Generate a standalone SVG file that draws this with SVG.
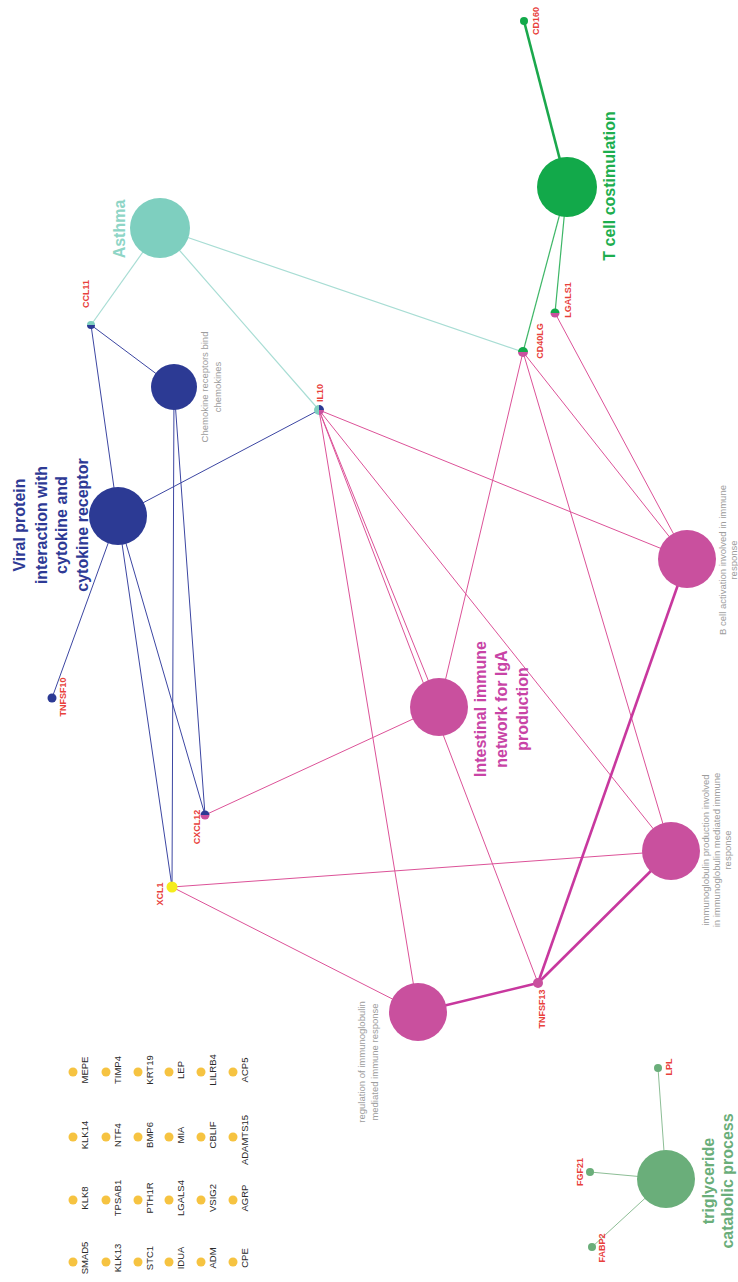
<svg xmlns="http://www.w3.org/2000/svg" width="738" height="1282" viewBox="0 0 738 1282">
<style>
text { font-family: "Liberation Sans", Arial, sans-serif; text-anchor: middle; }
.gene { font-size: 9px; font-weight: bold; fill: #E8413C; }
.grid { font-size: 9.5px; fill: #2a2a2a; }
.term { font-size: 9.5px; fill: #9C9C9C; }
.big { font-size: 16px; font-weight: bold; }
.eb { stroke: #3C46A2; stroke-width: 1; }
.em { stroke: #DC5298; stroke-width: 1; }
.emt { stroke: #C8389E; stroke-width: 2.6; }
.et { stroke: #A8DDD4; stroke-width: 1.2; }
.eg { stroke: #3DB666; stroke-width: 1.2; }
.egt { stroke: #1BA84C; stroke-width: 2.6; }
.ey { stroke: #8DBE96; stroke-width: 1; }
.gd { fill: #F6C341; }
.blue { fill: #2C3A94; }
.mag { fill: #C9509E; }
.teal { fill: #7ECFBF; }
.grn { fill: #12A94A; }
.tri { fill: #6AAE7A; }
</style>
<rect width="738" height="1282" fill="#ffffff"/>
<g id="edges" fill="none">
  <line class="et" x1="160" y1="228" x2="91" y2="325"/>
  <line class="et" x1="160" y1="228" x2="319" y2="410"/>
  <line class="et" x1="160" y1="228" x2="523" y2="352"/>
  <line class="egt" x1="567" y1="187" x2="524" y2="21"/>
  <line class="eg" x1="567" y1="187" x2="523" y2="352"/>
  <line class="eg" x1="567" y1="187" x2="555" y2="313"/>
  <line class="eb" x1="91" y1="325" x2="174" y2="387"/>
  <line class="eb" x1="91" y1="325" x2="118" y2="516"/>
  <line class="eb" x1="118" y1="516" x2="319" y2="410"/>
  <line class="eb" x1="118" y1="516" x2="52" y2="698"/>
  <line class="eb" x1="118" y1="516" x2="205" y2="815"/>
  <line class="eb" x1="118" y1="516" x2="172" y2="887"/>
  <line class="eb" x1="174" y1="387" x2="205" y2="815"/>
  <line class="eb" x1="174" y1="387" x2="172" y2="887"/>
  <line class="em" x1="319" y1="410" x2="418" y2="1012"/>
  <line class="em" x1="319" y1="410" x2="439" y2="707"/>
  <line class="em" x1="319" y1="410" x2="538" y2="983"/>
  <line class="em" x1="319" y1="410" x2="671" y2="851"/>
  <line class="em" x1="319" y1="410" x2="687" y2="559"/>
  <line class="em" x1="523" y1="352" x2="439" y2="707"/>
  <line class="em" x1="523" y1="352" x2="671" y2="851"/>
  <line class="em" x1="523" y1="352" x2="687" y2="559"/>
  <line class="em" x1="555" y1="313" x2="687" y2="559"/>
  <line class="em" x1="172" y1="887" x2="418" y2="1012"/>
  <line class="em" x1="172" y1="887" x2="671" y2="851"/>
  <line class="em" x1="205" y1="815" x2="439" y2="707"/>
  <line class="emt" x1="538" y1="983" x2="418" y2="1012"/>
  <line class="emt" x1="538" y1="983" x2="671" y2="851"/>
  <line class="emt" x1="538" y1="983" x2="687" y2="559"/>
  <line class="ey" x1="666" y1="1179" x2="658" y2="1068"/>
  <line class="ey" x1="666" y1="1179" x2="590" y2="1172"/>
  <line class="ey" x1="666" y1="1179" x2="592" y2="1247"/>
</g>
<g id="node-asthma">
  <circle class="teal" cx="160" cy="228" r="30"/>
  <text class="big" fill="#8ED5C6" transform="translate(124.6,229) rotate(-90)">Asthma</text>
</g>
<g id="node-tcell">
  <circle class="grn" cx="567" cy="187" r="30"/>
  <text class="big" fill="#1DAE4E" transform="translate(614.6,186) rotate(-90)">T cell costimulation</text>
</g>
<g id="node-viral">
  <circle class="blue" cx="118" cy="516" r="29"/>
  <text class="big" fill="#2E3A95" transform="translate(24.6,525) rotate(-90)">Viral protein</text>
  <text class="big" fill="#2E3A95" transform="translate(46.6,525) rotate(-90)">interaction with</text>
  <text class="big" fill="#2E3A95" transform="translate(67.1,525) rotate(-90)">cytokine and</text>
  <text class="big" fill="#2E3A95" transform="translate(87.6,525) rotate(-90)">cytokine receptor</text>
</g>
<g id="node-chemokine">
  <circle class="blue" cx="174" cy="387" r="23"/>
  <text class="term" transform="translate(208.3,387) rotate(-90)">Chemokine receptors bind</text>
  <text class="term" transform="translate(221.3,387) rotate(-90)">chemokines</text>
</g>
<g id="node-intestinal">
  <circle class="mag" cx="439" cy="707" r="29"/>
  <text class="big" fill="#C844A6" transform="translate(485.6,709) rotate(-90)">Intestinal immune</text>
  <text class="big" fill="#C844A6" transform="translate(506.6,709) rotate(-90)">network for IgA</text>
  <text class="big" fill="#C844A6" transform="translate(527.6,709) rotate(-90)">production</text>
</g>
<g id="node-bcell">
  <circle class="mag" cx="687" cy="559" r="29"/>
  <text class="term" transform="translate(726.3,560) rotate(-90)">B cell activation involved in immune</text>
  <text class="term" transform="translate(737.3,560) rotate(-90)">response</text>
</g>
<g id="node-igprod">
  <circle class="mag" cx="671" cy="851" r="29"/>
  <text class="term" transform="translate(709.3,850) rotate(-90)">immunoglobulin production involved</text>
  <text class="term" transform="translate(720.3,850) rotate(-90)">in immunoglobulin mediated immune</text>
  <text class="term" transform="translate(731.3,850) rotate(-90)">response</text>
</g>
<g id="node-regulation">
  <circle class="mag" cx="418" cy="1012" r="29"/>
  <text class="term" transform="translate(365.3,1062) rotate(-90)">regulation of immunoglobulin</text>
  <text class="term" transform="translate(378.3,1062) rotate(-90)">mediated immune response</text>
</g>
<g id="node-triglyceride">
  <circle class="tri" cx="666" cy="1179" r="29"/>
  <text class="big" fill="#6AAE7A" transform="translate(713.6,1181) rotate(-90)">triglyceride</text>
  <text class="big" fill="#6AAE7A" transform="translate(733.1,1181) rotate(-90)">catabolic process</text>
</g>
<g id="gene-CCL11">
  <path class="teal" d="M87,325 A4,4 0 0 1 95,325 Z"/>
  <path class="blue" d="M87,325 A4,4 0 0 0 95,325 Z"/>
  <text class="gene" transform="translate(89.2,294) rotate(-90)">CCL11</text>
</g>
<g id="gene-IL10">
  <path class="teal" d="M319,405 A5,5 0 0 0 319,415 Z"/>
  <path class="blue" d="M319,410 L319,405 A5,5 0 0 1 324,410 Z"/>
  <path class="mag" d="M319,410 L324,410 A5,5 0 0 1 319,415 Z"/>
  <text class="gene" transform="translate(323.2,393) rotate(-90)">IL10</text>
</g>
<g id="gene-CD40LG">
  <path class="grn" d="M518,352 A5,5 0 0 1 528,352 Z"/>
  <path class="mag" d="M518,352 A5,5 0 0 0 528,352 Z"/>
  <text class="gene" transform="translate(543.2,341) rotate(-90)">CD40LG</text>
</g>
<g id="gene-LGALS1">
  <path class="grn" d="M550.5,313 A4.5,4.5 0 0 1 559.5,313 Z"/>
  <path class="mag" d="M550.5,313 A4.5,4.5 0 0 0 559.5,313 Z"/>
  <text class="gene" transform="translate(571.2,300) rotate(-90)">LGALS1</text>
</g>
<g id="gene-CD160">
  <circle class="grn" cx="524" cy="21" r="4"/>
  <text class="gene" transform="translate(539.2,21) rotate(-90)">CD160</text>
</g>
<g id="gene-TNFSF10">
  <circle class="blue" cx="52" cy="698" r="4.5"/>
  <text class="gene" transform="translate(66.2,697) rotate(-90)">TNFSF10</text>
</g>
<g id="gene-CXCL12">
  <path class="blue" d="M200.5,815 A4.5,4.5 0 0 1 209.5,815 Z"/>
  <path class="mag" d="M200.5,815 A4.5,4.5 0 0 0 209.5,815 Z"/>
  <text class="gene" transform="translate(200.2,827) rotate(-90)">CXCL12</text>
</g>
<g id="gene-XCL1">
  <circle fill="#F5EC1E" cx="172" cy="887" r="5.5"/>
  <text class="gene" transform="translate(163.2,894) rotate(-90)">XCL1</text>
</g>
<g id="gene-TNFSF13">
  <circle class="mag" cx="538" cy="983" r="5"/>
  <text class="gene" transform="translate(545.2,1009) rotate(-90)">TNFSF13</text>
</g>
<g id="gene-LPL">
  <circle class="tri" cx="658" cy="1068" r="4"/>
  <text class="gene" transform="translate(672.2,1067) rotate(-90)">LPL</text>
</g>
<g id="gene-FGF21">
  <circle class="tri" cx="590" cy="1172" r="4"/>
  <text class="gene" transform="translate(583.2,1172) rotate(-90)">FGF21</text>
</g>
<g id="gene-FABP2">
  <circle class="tri" cx="592" cy="1247" r="4"/>
  <text class="gene" transform="translate(605.2,1248) rotate(-90)">FABP2</text>
</g>
<g id="unconnected">
  <g id="g-MEPE"><circle class="gd" cx="73" cy="1072" r="4.5"/><text class="grid" transform="translate(88.3,1070) rotate(-90)">MEPE</text></g>
  <g id="g-TIMP4"><circle class="gd" cx="106" cy="1072" r="4.5"/><text class="grid" transform="translate(121.3,1070) rotate(-90)">TIMP4</text></g>
  <g id="g-KRT19"><circle class="gd" cx="138" cy="1072" r="4.5"/><text class="grid" transform="translate(153.3,1070) rotate(-90)">KRT19</text></g>
  <g id="g-LEP"><circle class="gd" cx="169" cy="1072" r="4.5"/><text class="grid" transform="translate(184.3,1070) rotate(-90)">LEP</text></g>
  <g id="g-LILRB4"><circle class="gd" cx="201" cy="1072" r="4.5"/><text class="grid" transform="translate(216.3,1070) rotate(-90)">LILRB4</text></g>
  <g id="g-ACP5"><circle class="gd" cx="233" cy="1072" r="4.5"/><text class="grid" transform="translate(248.3,1070) rotate(-90)">ACP5</text></g>
  <g id="g-KLK14"><circle class="gd" cx="73" cy="1137" r="4.5"/><text class="grid" transform="translate(88.3,1135) rotate(-90)">KLK14</text></g>
  <g id="g-NTF4"><circle class="gd" cx="106" cy="1137" r="4.5"/><text class="grid" transform="translate(121.3,1135) rotate(-90)">NTF4</text></g>
  <g id="g-BMP6"><circle class="gd" cx="138" cy="1137" r="4.5"/><text class="grid" transform="translate(153.3,1135) rotate(-90)">BMP6</text></g>
  <g id="g-MIA"><circle class="gd" cx="169" cy="1137" r="4.5"/><text class="grid" transform="translate(184.3,1135) rotate(-90)">MIA</text></g>
  <g id="g-CBLIF"><circle class="gd" cx="201" cy="1137" r="4.5"/><text class="grid" transform="translate(216.3,1135) rotate(-90)">CBLIF</text></g>
  <g id="g-ADAMTS15"><circle class="gd" cx="233" cy="1137" r="4.5"/><text class="grid" transform="translate(248.3,1140) rotate(-90)">ADAMTS15</text></g>
  <g id="g-KLK8"><circle class="gd" cx="73" cy="1200" r="4.5"/><text class="grid" transform="translate(88.3,1198) rotate(-90)">KLK8</text></g>
  <g id="g-TPSAB1"><circle class="gd" cx="106" cy="1200" r="4.5"/><text class="grid" transform="translate(121.3,1198) rotate(-90)">TPSAB1</text></g>
  <g id="g-PTH1R"><circle class="gd" cx="138" cy="1200" r="4.5"/><text class="grid" transform="translate(153.3,1198) rotate(-90)">PTH1R</text></g>
  <g id="g-LGALS4"><circle class="gd" cx="169" cy="1200" r="4.5"/><text class="grid" transform="translate(184.3,1198) rotate(-90)">LGALS4</text></g>
  <g id="g-VSIG2"><circle class="gd" cx="201" cy="1200" r="4.5"/><text class="grid" transform="translate(216.3,1198) rotate(-90)">VSIG2</text></g>
  <g id="g-AGRP"><circle class="gd" cx="233" cy="1200" r="4.5"/><text class="grid" transform="translate(248.3,1198) rotate(-90)">AGRP</text></g>
  <g id="g-SMAD5"><circle class="gd" cx="73" cy="1262" r="4.5"/><text class="grid" transform="translate(88.3,1258) rotate(-90)">SMAD5</text></g>
  <g id="g-KLK13"><circle class="gd" cx="106" cy="1262" r="4.5"/><text class="grid" transform="translate(121.3,1258) rotate(-90)">KLK13</text></g>
  <g id="g-STC1"><circle class="gd" cx="138" cy="1262" r="4.5"/><text class="grid" transform="translate(153.3,1258) rotate(-90)">STC1</text></g>
  <g id="g-IDUA"><circle class="gd" cx="169" cy="1262" r="4.5"/><text class="grid" transform="translate(184.3,1258) rotate(-90)">IDUA</text></g>
  <g id="g-ADM"><circle class="gd" cx="201" cy="1262" r="4.5"/><text class="grid" transform="translate(216.3,1258) rotate(-90)">ADM</text></g>
  <g id="g-CPE"><circle class="gd" cx="233" cy="1262" r="4.5"/><text class="grid" transform="translate(248.3,1258) rotate(-90)">CPE</text></g>
</g>
</svg>
